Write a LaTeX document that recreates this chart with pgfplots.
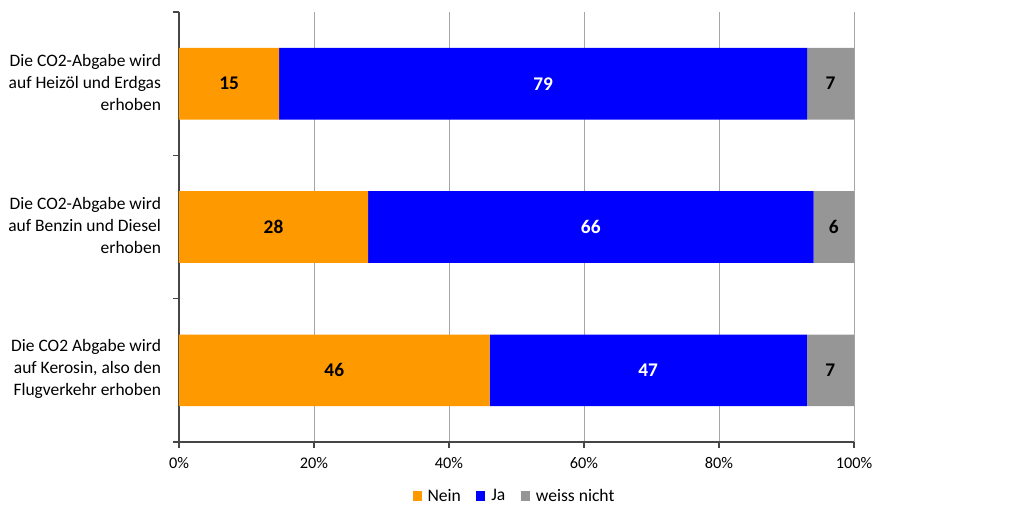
\documentclass[border=0pt]{standalone}
\usepackage{pgfplots}
\pgfplotsset{compat=1.18}
\usepackage{pgfplotstable}
\usepackage{fontspec}
\setmainfont{Carlito}
\definecolor{cNein}{RGB}{255,153,0}
\definecolor{cJa}{RGB}{0,0,255}
\definecolor{cWn}{RGB}{150,150,150}
\definecolor{gridc}{RGB}{166,166,166}
\definecolor{axc}{RGB}{70,70,70}

\pgfplotstableread{
y nein ja wn
0 14.85 78.22 6.93
1 28 66 6
2 46 47 7
}\bars
\pgfplotstableread{
y cn lbn cj lbj cw lbw
0 7.43 15 53.96 79 96.53 7
1 14 28 61 66 97 6
2 23 46 69.5 47 96.5 7
}\labels

\pgfplotsset{common/.style={scale only axis, width=506.25pt, height=322.5pt,
  at={(134.25pt,59.25pt)}, anchor=south west,
  xmin=0, xmax=100, ymin=-0.5, ymax=2.5, y dir=reverse},
  sqlegend/.style={legend image code/.code={\fill[##1] (0pt,-3.4pt) rectangle (6.8pt,3.4pt);}}}

\begin{document}
\begin{tikzpicture}
\begin{axis}[common, xbar stacked, bar width=0.5,
  axis x line*=bottom, axis y line*=left,
  axis line style={axc, line width=0.8pt, -},
  xtick={0,20,...,100}, xticklabels={0\%,20\%,40\%,60\%,80\%,100\%},
  xticklabel style={font=\fontsize{12.2}{14}\selectfont, yshift=-3.75pt},
  xmajorgrids, grid style={gridc, line width=0.75pt},
  tick align=outside, major tick length=4.5pt, tick style={axc, line width=0.8pt},
  ytick={-0.5,0.5,1.5,2.5}, yticklabels={},
  extra y ticks={0,1,2},
  extra y tick labels={{Die CO2-Abgabe wird\\auf Heizöl und Erdgas\\erhoben},{Die CO2-Abgabe wird\\auf Benzin und Diesel\\erhoben},{Die CO2 Abgabe wird\\auf Kerosin, also den\\Flugverkehr erhoben}},
  extra y tick style={major tick length=0pt, tick style={draw=none}},
  yticklabel style={align=right, font=\fontsize{13.1}{16.5}\selectfont, xshift=-10pt, yshift=1.2pt},
  legend style={at={(0.5,-0.1256)}, anchor=center, legend columns=-1, draw=none,
    font=\fontsize{13.2}{16}\selectfont,
    nodes={inner xsep=4.5pt},
    /tikz/every even column/.append style={column sep=7pt}},
]
\addplot[fill=cNein, draw=none, sqlegend] table[x=nein, y=y]{\bars};
\addlegendentry{Nein}
\addplot[fill=cJa, draw=none, sqlegend] table[x=ja, y=y]{\bars};
\addlegendentry{Ja}
\addplot[fill=cWn, draw=none, sqlegend] table[x=wn, y=y]{\bars};
\addlegendentry{weiss nicht}
\end{axis}
\begin{axis}[common, hide axis, clip=false,
  nodes near coords, point meta=explicit symbolic,
  nodes near coords style={anchor=center, font=\bfseries\fontsize{14.5}{15}\selectfont}]
\addplot[only marks, mark=*, mark size=0pt, mark options={draw=none, fill=none},
  nodes near coords style={text=black}] table[x=cn, y=y, meta=lbn]{\labels};
\addplot[only marks, mark=*, mark size=0pt, mark options={draw=none, fill=none},
  nodes near coords style={text=white}] table[x=cj, y=y, meta=lbj]{\labels};
\addplot[only marks, mark=*, mark size=0pt, mark options={draw=none, fill=none},
  nodes near coords style={text=black}] table[x=cw, y=y, meta=lbw]{\labels};
\end{axis}
\pgfresetboundingbox
\path[use as bounding box] (0,0) rectangle (768pt,390.75pt);
\end{tikzpicture}
\end{document}
